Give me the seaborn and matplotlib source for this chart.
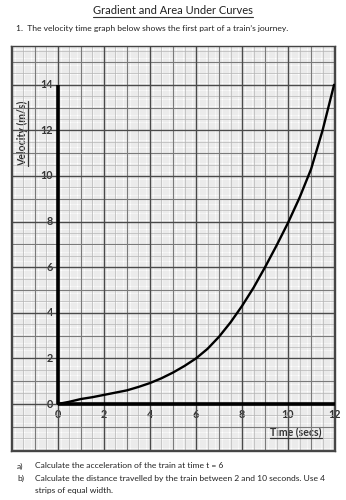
import numpy as np
import pandas as pd
import matplotlib
matplotlib.use("Agg")
import matplotlib.pyplot as plt
import seaborn as sns
from matplotlib.lines import Line2D

sns.set_theme(style="white")
plt.rcParams['font.family'] = ['Lato', 'DejaVu Sans']

# ---- data ----
time_s = [0, 0.5, 1, 1.5, 2, 2.5, 3, 3.5, 4, 4.5, 5, 5.5, 6, 6.5, 7, 7.5, 8,
          8.5, 9, 9.5, 10, 10.5, 11, 11.5, 12]
velocity = [0, 0.1, 0.22, 0.3, 0.4, 0.5, 0.6, 0.75, 0.92, 1.13, 1.38, 1.67, 2.0,
            2.42, 2.95, 3.58, 4.3, 5.1, 6.0, 6.95, 7.95, 9.05, 10.3, 12.0, 14.0]
x_ticks = [0, 2, 4, 6, 8, 10, 12]
y_ticks = [0, 2, 4, 6, 8, 10, 12, 14]

title = "Gradient and Area Under Curves"
intro = "1.  The velocity time graph below shows the first part of a train\u2019s journey."
qa = "Calculate the acceleration of the train at time t = 6"
qb1 = "Calculate the distance travelled by the train between 2 and 10 seconds. Use 4"
qb2 = "strips of equal width."

df = pd.DataFrame({"t": time_s, "v": velocity})

W, H = 346, 500
fig = plt.figure(figsize=(W / 100, H / 100), dpi=100)
fig.patch.set_facecolor("white")

left, right, top, bottom = 11, 335, 46, 451
ax = fig.add_axes([left / W, 1 - bottom / H, (right - left) / W, (bottom - top) / H])
ax.set_xlim(-2.04, 12.04)
ax.set_ylim(-2.06, 15.7)
ax.set_facecolor("white")

x0, x1 = ax.get_xlim()
y0, y1 = ax.get_ylim()
# graph paper grid
minor_x = np.arange(-2.0, 12.05, 0.1)
minor_y = np.arange(-2.0, 15.75, 0.1)
ax.vlines(minor_x, y0, y1, color="#d2d2d2", lw=0.35, zorder=1)
ax.hlines(minor_y, x0, x1, color="#d2d2d2", lw=0.35, zorder=1)
half_x = np.arange(-1.5, 12.05, 1.0)
half_y = np.arange(-1.5, 15.75, 1.0)
ax.vlines(half_x, y0, y1, color="#b5b5b5", lw=0.5, zorder=1.1)
ax.hlines(half_y, x0, x1, color="#b5b5b5", lw=0.5, zorder=1.1)
odd_x = np.arange(-1, 12.05, 2.0)
odd_y = np.arange(-1, 15.75, 2.0)
ax.vlines(odd_x, y0, y1, color="#7a7a7a", lw=0.8, zorder=1.2)
ax.hlines(odd_y, x0, x1, color="#7a7a7a", lw=0.8, zorder=1.2)
even_x = np.arange(-2, 12.05, 2.0)
even_y = np.arange(-2, 15.75, 2.0)
ax.vlines(even_x, y0, y1, color="#4a4a4a", lw=1.0, zorder=1.3)
ax.hlines(even_y, x0, x1, color="#4a4a4a", lw=1.0, zorder=1.3)

for s in ax.spines.values():
    s.set_color("#444444")
    s.set_linewidth(1.0)
ax.set_xticks([])
ax.set_yticks([])

# axes of the hand-drawn graph
ax.plot([0, 0], [0, 14], color="black", lw=2.6, solid_capstyle="butt", zorder=4)
ax.plot([0, x1], [0, 0], color="black", lw=2.6, solid_capstyle="butt", zorder=4)

sns.lineplot(data=df, x="t", y="v", ax=ax, color="black", lw=1.7, zorder=5)
ax.set_xlabel("")
ax.set_ylabel("")

tick_kw = dict(fontsize=7.8, fontweight="bold", color="#333333", zorder=1.0)
for v in y_ticks:
    ax.text(-0.22, v, str(v), ha="right", va="center", **tick_kw)
for t in x_ticks:
    ax.text(t, -0.45, str(t), ha="center", va="center", **tick_kw)

ylab = ax.text(-1.55, 11.85, "Velocity (m/s)", rotation=90, ha="center", va="center",
               fontsize=7.6, fontweight="bold", color="#333333", zorder=1.0)
xlab = ax.text(10.35, -1.22, "Time (secs)", ha="center", va="center",
               fontsize=7.6, fontweight="bold", color="#333333", zorder=1.0)


def ftext(x, y, s, **kw):
    return fig.text(x / W, 1 - y / H, s, **kw)


t_title = ftext(173, 10, title, ha="center", va="center", fontsize=8.0, color="#222222")
ftext(16, 28, intro, ha="left", va="center", fontsize=6.1, color="#222222")
ftext(17, 466, "a)", ha="left", va="center", fontsize=6.1, color="#222222")
ftext(35, 466, qa, ha="left", va="center", fontsize=6.1, color="#222222")
ftext(17, 478, "b)", ha="left", va="center", fontsize=6.1, color="#222222")
ftext(35, 478, qb1, ha="left", va="center", fontsize=6.1, color="#222222")
ftext(35, 490, qb2, ha="left", va="center", fontsize=6.1, color="#222222")

fig.canvas.draw()
renderer = fig.canvas.get_renderer()


def underline_h(txt, offset=1.0, lw=0.8, color="#333333"):
    bb = txt.get_window_extent(renderer=renderer)
    yline = bb.y0 - offset
    fig.add_artist(Line2D([bb.x0 / W, bb.x1 / W], [yline / H, yline / H],
                          color=color, lw=lw, transform=fig.transFigure))


def underline_v(txt, offset=1.0, lw=0.8, color="#333333"):
    bb = txt.get_window_extent(renderer=renderer)
    xline = bb.x1 + offset
    fig.add_artist(Line2D([xline / W, xline / W], [bb.y0 / H, bb.y1 / H],
                          color=color, lw=lw, transform=fig.transFigure))


underline_h(t_title, offset=1.0, lw=0.8)
underline_v(ylab, offset=0.5, lw=0.9)
underline_h(xlab, offset=1.0, lw=0.9)

fig.savefig("out.png", dpi=100)
